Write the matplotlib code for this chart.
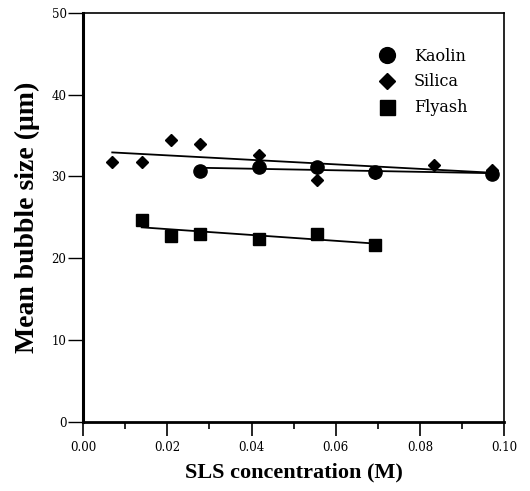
import numpy as np
import matplotlib
matplotlib.use('Agg')
import matplotlib.pyplot as plt
from matplotlib.ticker import MultipleLocator, FormatStrFormatter

plt.rcParams['font.family'] = ['Liberation Serif', 'DejaVu Serif']

# SLS concentration (M) and mean bubble size (um)
kaolin_x = [0.0278, 0.0417, 0.0556, 0.0694, 0.0972]
kaolin_y = [30.7, 31.2, 31.1, 30.5, 30.3]

silica_x = [0.0069, 0.0139, 0.0208, 0.0278, 0.0417, 0.0556, 0.0694, 0.0833, 0.0972]
silica_y = [31.7, 31.7, 34.5, 34.0, 32.6, 29.5, 30.4, 31.4, 30.8]

flyash_x = [0.0139, 0.0208, 0.0278, 0.0417, 0.0556, 0.0694]
flyash_y = [24.7, 22.7, 23.0, 22.4, 23.0, 21.6]

fig = plt.figure(figsize=(5.3, 4.91), dpi=100)
ax = fig.add_axes([0.157, 0.141, 0.794, 0.833])

series = [
    ('Kaolin', kaolin_x, kaolin_y, 'o', 9.5),
    ('Silica', silica_x, silica_y, 'D', 6.5),
    ('Flyash', flyash_x, flyash_y, 's', 9),
]

for name, xs, ys, mk, ms in series:
    xs = np.array(xs)
    ys = np.array(ys)
    # least squares fit line over the measured range
    p = np.polyfit(xs, ys, 1)
    xf = np.array([xs.min(), xs.max()])
    ax.plot(xf, np.polyval(p, xf), color='black', lw=1.3)
    ax.plot(xs, ys, linestyle='none', marker=mk, markersize=ms,
            color='black', label=name)

ax.set_xlim(0, 0.10)
ax.set_ylim(0, 50)
ax.xaxis.set_major_locator(MultipleLocator(0.02))
ax.xaxis.set_minor_locator(MultipleLocator(0.01))
ax.xaxis.set_major_formatter(FormatStrFormatter('%.2f'))
ax.yaxis.set_major_locator(MultipleLocator(10))

ax.tick_params(axis='x', which='major', direction='out', length=10, width=1.2, labelsize=8.5, pad=4)
ax.tick_params(axis='x', which='minor', direction='out', length=5, width=1.2)
ax.tick_params(axis='y', which='major', direction='out', length=11, width=1.0, labelsize=8.5, pad=1)
for lab in ax.get_xticklabels() + ax.get_yticklabels():
    lab.set_family('DejaVu Serif')

ax.spines['left'].set_linewidth(2.2)
ax.spines['bottom'].set_linewidth(2.0)
ax.spines['top'].set_linewidth(1.2)
ax.spines['right'].set_linewidth(1.2)

ax.set_xlabel('SLS concentration (M)', fontsize=16, fontweight='bold', labelpad=6)
ax.set_ylabel('Mean bubble size (\u03bcm)', fontsize=20, fontweight='bold', labelpad=8)

leg = ax.legend(loc='upper left', bbox_to_anchor=(0.70, 0.915), frameon=False,
                prop={'family': 'DejaVu Serif', 'size': 11.5}, markerscale=1.2,
                handlelength=1.2, handletextpad=1.05, labelspacing=0.55,
                borderpad=0, borderaxespad=0)

fig.savefig('out.png', dpi=100)
